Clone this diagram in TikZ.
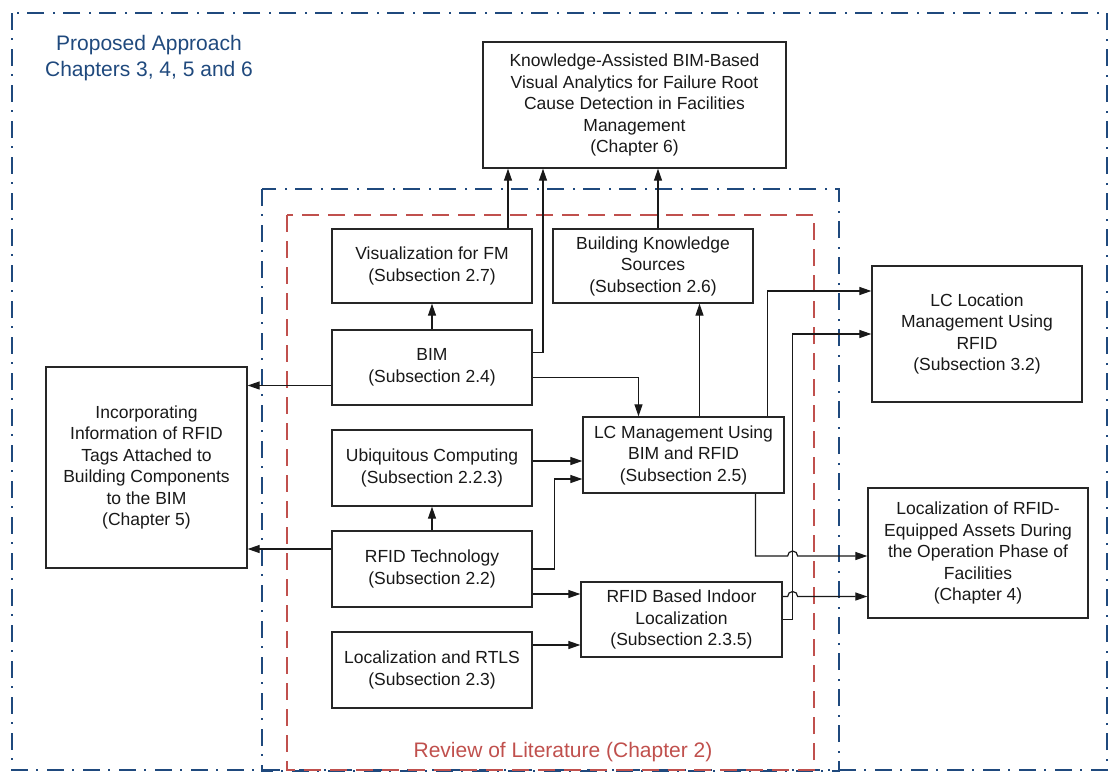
\documentclass[tikz,border=0pt]{standalone}
\usepackage{fontspec}
\setmainfont{Liberation Sans}
\usetikzlibrary{arrows.meta,positioning,calc}
\definecolor{apprblue}{RGB}{31,73,125}
\definecolor{litred}{RGB}{192,80,77}

\begin{document}
\begin{tikzpicture}[x=1pt,y=-1pt,
  blk/.style={draw=black!85, line width=1.3pt, fill=white, align=center, inner sep=0pt,
    text=black!90, font=\fontsize{17.5}{21.5}\selectfont},
  link/.style={draw=black!90, line width=1.2pt, -{Triangle[length=12pt,width=8pt]}},
  approach/.style={draw=apprblue, line width=1.8pt, dash pattern=on 17pt off 8pt on 2pt off 9pt},
  review/.style={draw=litred, line width=1.6pt, dash pattern=on 17pt off 9pt},
  bigtext/.style={align=center, font=\fontsize{21}{26}\selectfont}]
\useasboundingbox (0,0) rectangle (1110,772);
% frames
\draw[approach] (12,13) rectangle (1107,770);
\draw[approach] (262,189) rectangle (839,771);
\draw[review] (287,215) rectangle (814,770);
\node[bigtext, text=apprblue] (apprlbl) at (149,58) {Proposed Approach\\Chapters 3, 4, 5 and 6};
\node[bigtext, text=litred] (revlbl) at (563,752) {Review of Literature (Chapter 2)};
% boxes
\node[blk, minimum width=303pt, minimum height=126pt] (ch6) at (634.5,105)
  {Knowledge-Assisted BIM-Based\\Visual Analytics for Failure Root\\Cause Detection in Facilities\\Management\\(Chapter 6)};
\node[blk, minimum width=200pt, minimum height=74pt] (vis) at (432,266) {Visualization for FM\\(Subsection 2.7)};
\node[blk, minimum width=200pt, minimum height=74pt] (bks) at (653,266) {Building Knowledge\\Sources\\(Subsection 2.6)};
\node[blk, minimum width=200pt, minimum height=75pt] (bim) at (432,367.5) {BIM\\(Subsection 2.4)};
\node[blk, minimum width=200pt, minimum height=76pt] (ubiq) at (432,468) {Ubiquitous Computing\\(Subsection 2.2.3)};
\node[blk, minimum width=200pt, minimum height=76pt] (rfid) at (432,569) {RFID Technology\\(Subsection 2.2)};
\node[blk, minimum width=200pt, minimum height=76pt] (rtls) at (432,670) {Localization and RTLS\\(Subsection 2.3)};
\node[blk, minimum width=201pt, minimum height=76pt] (lcm) at (683.5,455) {LC Management Using\\BIM and RFID\\(Subsection 2.5)};
\node[blk, minimum width=201pt, minimum height=75pt] (rloc) at (681.5,619.5) {RFID Based Indoor\\Localization\\(Subsection 2.3.5)};
\node[blk, minimum width=201pt, minimum height=201pt] (inc) at (146.5,467.5)
  {Incorporating\\Information of RFID\\Tags Attached to\\Building Components\\to the BIM\\(Chapter 5)};
\node[blk, minimum width=210pt, minimum height=136pt] (lcl) at (977,334) {LC Location\\Management Using\\RFID\\(Subsection 3.2)};
\node[blk, minimum width=220pt, minimum height=130pt] (loc) at (978,553)
  {Localization of RFID-\\Equipped Assets During\\the Operation Phase of\\Facilities\\(Chapter 4)};
% connectors
\draw[link] ([xshift=76pt]vis.north) -- ([xshift=76pt]vis.north |- ch6.south);
\draw[link] ([yshift=15pt]bim.east) -| ([xshift=-91.5pt]ch6.south);
\draw[link] ([xshift=5pt]bks.north) -- ([xshift=5pt]bks.north |- ch6.south);
\draw[link] (bim.north) -- (vis.south);
\draw[link] ([yshift=-18pt]bim.west) -- ([yshift=-18pt]bim.west -| inc.east);
\draw[link] ([yshift=-10pt]bim.east) -| ([xshift=-45pt]lcm.north);
\draw[link] ([xshift=16pt]lcm.north) -- ([xshift=16pt]lcm.north |- bks.south);
\draw[link] ([xshift=84pt]lcm.north) |- ([yshift=43pt]lcl.west);
\coordinate (jog) at ([xshift=10pt]rloc.east);
\coordinate (hopA) at ([yshift=-3pt]loc.west);
\coordinate (hopB) at ([yshift=23pt]rloc.east);
\draw[link] (rloc.east) -- (jog) |- (lcl.west);
\draw[link] ([xshift=72pt]lcm.south) |- ([xshift=-5pt]jog |- hopA)
  arc[start angle=180, end angle=0, radius=5pt] -- (hopA);
\draw[link] (hopB) -- ([xshift=-5pt]jog |- hopB)
  arc[start angle=180, end angle=0, radius=5pt] -- (hopB -| loc.west);
\draw[link] ([yshift=7pt]ubiq.east) -- ([yshift=7pt]ubiq.east -| lcm.west);
\draw[link] (rfid.east) -- ++(22,0) |- ([yshift=-24pt]lcm.west);
\draw[link] (rfid.north) -- (ubiq.south);
\draw[link] ([yshift=20pt]rfid.west) -- ([yshift=20pt]rfid.west -| inc.east);
\draw[link] ([yshift=-25pt]rfid.east) -- ([yshift=-25pt]rfid.east -| rloc.west);
\draw[link] ([yshift=25pt]rtls.east) -- ([yshift=25pt]rtls.east -| rloc.west);
\end{tikzpicture}
\end{document}
